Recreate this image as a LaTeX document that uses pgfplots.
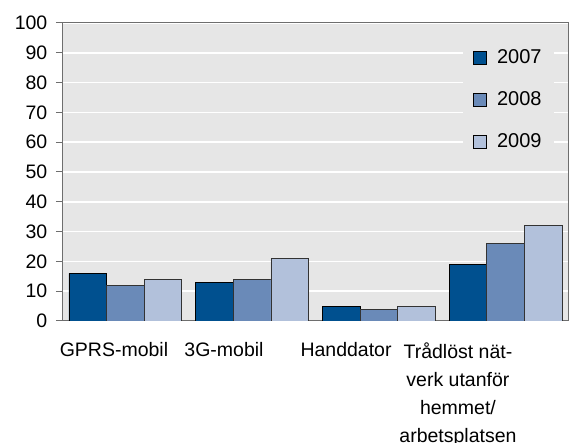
\documentclass[border=0pt]{standalone}
\usepackage{fontspec}
\setmainfont{Liberation Sans}
\usepackage{pgfplots}
\pgfplotsset{compat=1.18}
\definecolor{bgc}{HTML}{E6E6E6}
\definecolor{c1}{HTML}{00508F}
\definecolor{c2}{HTML}{6A8AB8}
\definecolor{c3}{HTML}{B2C1DB}
\definecolor{axc}{HTML}{6E6E6E}
\pgfplotsset{sq/.style={legend image code/.code={\draw[##1,draw=black,line width=0.8pt] (0pt,-6.5pt) rectangle (13pt,6.5pt);}}}
\begin{document}
\fontsize{19.5}{28.5}\selectfont
\begin{tikzpicture}
\useasboundingbox (0,0) rectangle (571pt,443pt);
\begin{axis}[
  at={(62pt,122pt)}, anchor=south west,
  scale only axis, width=507pt, height=298pt,
  xmin=-0.5, xmax=3.5, ymin=0, ymax=100,
  ytick={0,10,...,100},
  xtick={-0.09,0.778,1.741,2.624},
  xticklabels={GPRS-mobil,3G-mobil,Handdator,{Trådlöst nät-\\verk utanför\\hemmet/\\arbetsplatsen}},
  xticklabel style={align=center, font=\fontsize{19.5}{28}\selectfont, yshift=-9pt},
  yticklabel style={font=\fontsize{19.5}{23}\selectfont, xshift=-2pt},
  /pgf/number format/assume math mode=true,
  x tick style={draw=none},
  y tick style={draw=axc, line width=1pt},
  tick align=outside, major tick length=6pt,
  ytick pos=left, xtick pos=bottom,
  axis background/.style={fill=bgc},
  ymajorgrids, grid style={white, line width=1.5pt},
  axis line style={draw=axc, line width=1pt},
  ybar=0pt, bar width=0.297,
  legend style={at={(0.791,0.925)}, anchor=north west, fill=bgc, draw=none,
    row sep=21pt, column sep=8pt, font=\fontsize{20}{20}\selectfont, inner xsep=10pt},
  legend cell align=left,
]
\addplot[fill=c1, draw=black, line width=0.8pt, sq] coordinates {(0,16) (1,13) (2,5) (3,19)};
\addplot[fill=c2, draw=black!80, line width=0.8pt, sq] coordinates {(0,12) (1,14) (2,4) (3,26)};
\addplot[fill=c3, draw=black!80, line width=0.8pt, sq] coordinates {(0,14) (1,21) (2,5) (3,32)};
\legend{2007,2008,2009}
\end{axis}
\end{tikzpicture}
\end{document}
